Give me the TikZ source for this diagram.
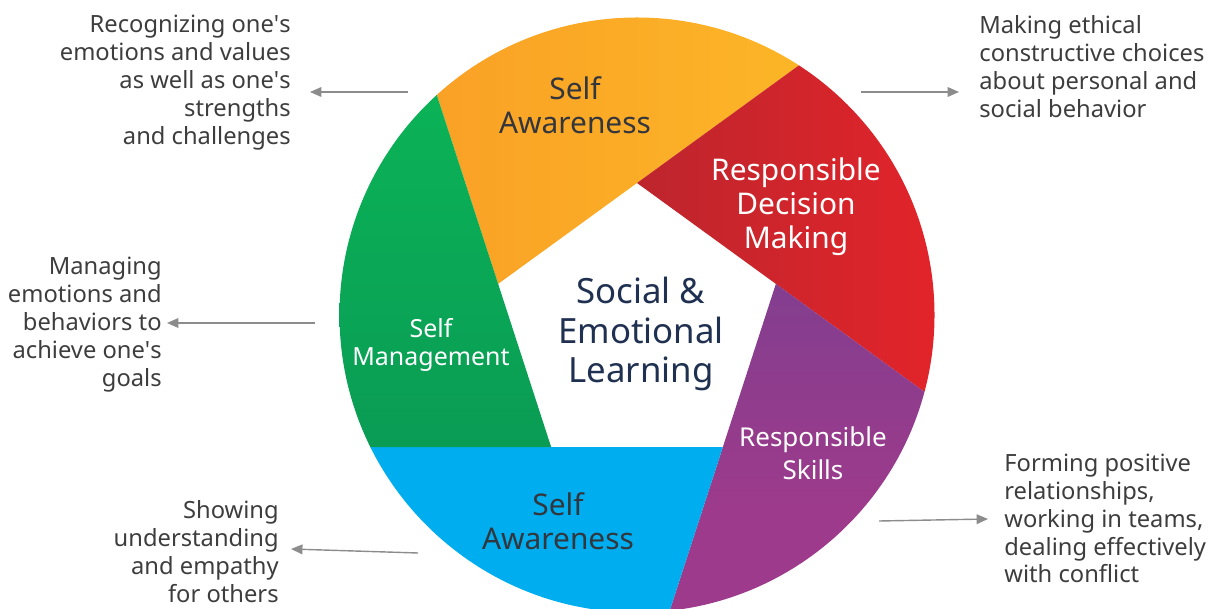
\documentclass[tikz,border=0pt]{standalone}
\usepackage{fontspec}
\setmainfont{Noto Sans}
\usepackage{xcolor}
\usetikzlibrary{calc,arrows.meta}

\definecolor{selNavy}{HTML}{1F3050}
\definecolor{selDark}{HTML}{33363D}
\definecolor{noteGray}{HTML}{3D3D3D}
\definecolor{pointerGray}{HTML}{8C8C8C}
\definecolor{orangeA}{HTML}{F99F26}
\definecolor{orangeB}{HTML}{FDBB27}
\definecolor{redA}{HTML}{BD252D}
\definecolor{redB}{HTML}{EE2429}
\definecolor{purpleA}{HTML}{833E8F}
\definecolor{purpleB}{HTML}{9E3A8B}
\definecolor{blueC}{HTML}{00AEEF}
\definecolor{greenA}{HTML}{0BBA57}
\definecolor{greenB}{HTML}{0A9C55}

\tikzset{
    segorange/.style={left color=orangeA, right color=orangeB},
    segred/.style={left color=redA, right color=redB},
    segpurple/.style={top color=purpleA, bottom color=purpleB, middle color=purpleB},
    segblue/.style={fill=blueC},
    seggreen/.style={top color=greenA, bottom color=greenB},
}

\begin{document}
\begin{tikzpicture}[x=0.02cm, y=0.02cm,
    seglabel/.style={font=\fontsize{17}{19.3}\selectfont, align=center, inner sep=0pt},
    note/.style={font=\fontsize{13.5}{15.9}\selectfont, text=noteGray, inner sep=0pt},
    pointer/.style={-{Triangle[length=6.5pt, width=5.5pt]}, pointerGray, line width=0.8pt}]
    \useasboundingbox (0,0) rectangle (1212,608);
    \coordinate (cc) at (637,293);
    \coordinate (pc) at (637,279);
    % pentagon corners and far points along the extended edges
    \foreach \a in {18,90,162,234,306} {
        \coordinate (v\a) at ($(pc)+(\a:146)$);
        \coordinate (w\a) at ($(v\a)+({\a-54}:320)$);
    }
    \begin{scope}
        \clip (cc) circle[radius=297.5];
        \foreach \a/\b/\s in {90/162/segorange, 18/90/segred, 306/18/segpurple, 234/306/segblue, 162/234/seggreen}
            \path[\s] (v\b) -- (v\a) -- (w\a) -- (w\b) -- cycle;
    \end{scope}

    \node[seglabel, text=selDark] (awaretop) at (575,503) {Self\\Awareness};
    \node[seglabel, text=white] (decision) at (796,401) {Responsible\\Decision\\Making};
    \node[font=\fontsize{19.8}{22.7}\selectfont, align=center, text=selNavy, inner sep=0pt] (sel) at (641,274) {Social \&\\Emotional\\Learning};
    \node[font=\fontsize{14.2}{15.9}\selectfont, align=center, text=white, inner sep=0pt] (manage) at (431,263) {Self\\Management};
    \node[font=\fontsize{14.8}{18.7}\selectfont, align=center, text=white, inner sep=0pt] (skills) at (813,154.5) {Responsible\\Skills};
    \node[seglabel, text=selDark] (awarebot) at (558,87) {Self\\Awareness};

    \node[note, anchor=east, align=right] (recognize) at (291,525.5) {Recognizing one\textquotesingle s\\emotions and values\\as well as one\textquotesingle s\\strengths\\and challenges};
    \node[note, anchor=west, align=left] (ethical) at (979,541.5) {Making ethical\\constructive choices\\about personal and\\social behavior};
    \node[note, anchor=east, align=right] (goals) at (162,283.5) {Managing\\emotions and\\behaviors to\\achieve one\textquotesingle s\\goals};
    \node[note, anchor=east, align=right] (empathy) at (279,56.5) {Showing\\understanding\\and empathy\\for others};
    \node[note, anchor=west, align=left] (teams) at (1004,89.5) {Forming positive\\relationships,\\working in teams,\\dealing effectively\\with conflict};

    \coordinate (p1a) at (408,516); \coordinate (p1b) at (310,516);
    \coordinate (p2a) at (861,516); \coordinate (p2b) at (959,516);
    \coordinate (p3a) at (315,285); \coordinate (p3b) at (167,285);
    \coordinate (p4a) at (418,55);  \coordinate (p4b) at (291,59);
    \coordinate (p5a) at (879,87);  \coordinate (p5b) at (988,89);
    \foreach \i in {1,...,5}
        \draw[pointer] (p\i a) -- (p\i b);
\end{tikzpicture}
\end{document}
